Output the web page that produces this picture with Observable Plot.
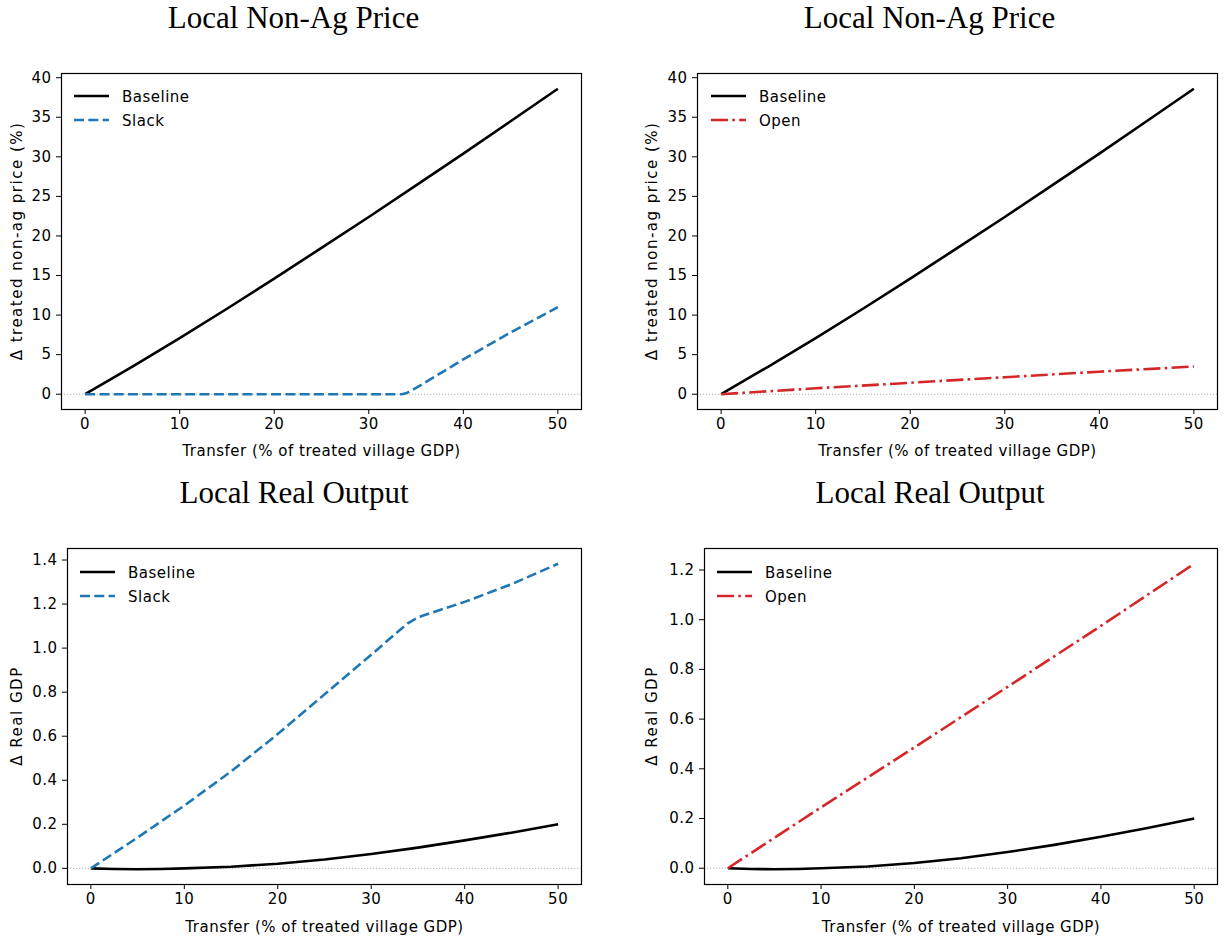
<!DOCTYPE html>
<html><head><meta charset="utf-8">
<script src="https://cdn.jsdelivr.net/npm/d3@7"></script>
<script src="https://cdn.jsdelivr.net/npm/@observablehq/plot@0.6"></script>
<style>
html,body{margin:0;padding:0;background:#fff;}
#page{position:relative;width:1225px;height:939px;overflow:hidden;background:#fff;}
.panel{position:absolute;}
.panel svg{overflow:visible;}
#overlay{position:absolute;left:0;top:0;pointer-events:none;}
</style></head><body><div id="page"></div>
<script>
// ---------- data ----------
const xTicks = [0, 10, 20, 30, 40, 50];
const priceTicks = [0, 5, 10, 15, 20, 25, 30, 35, 40];
const gdpTicksLeft = [0, 0.2, 0.4, 0.6, 0.8, 1.0, 1.2, 1.4];
const gdpTicksRight = [0, 0.2, 0.4, 0.6, 0.8, 1.0, 1.2];

const priceBaselineX = [0, 5, 10, 15, 20, 25, 30, 35, 40, 45, 50];
const priceBaselineY = [0, 3.5, 7.1, 10.8, 14.6, 18.5, 22.4, 26.4, 30.4, 34.5, 38.6];

const priceSlackX = [0, 33.5, 34, 35, 40, 45, 50];
const priceSlackY = [0, 0, 0.15, 0.8, 4.4, 7.8, 11.0];

const priceOpenX = [0, 10, 20, 30, 40, 50];
const priceOpenY = [0, 0.75, 1.45, 2.15, 2.85, 3.5];

const gdpBaselineX = [0, 2.5, 5, 7.5, 10, 15, 20, 25, 30, 35, 40, 45, 50];
const gdpBaselineY = [0, -0.003, -0.004, -0.003, 0, 0.007, 0.021, 0.04, 0.065, 0.094, 0.127, 0.162, 0.2];

const gdpSlackX = [0, 5, 10, 15, 20, 25, 30, 33, 34, 35, 40, 45, 50];
const gdpSlackY = [0, 0.14, 0.285, 0.44, 0.61, 0.79, 0.97, 1.08, 1.115, 1.14, 1.21, 1.29, 1.383];

const gdpOpenX = [0, 10, 20, 30, 40, 50];
const gdpOpenY = [0, 0.245, 0.486, 0.73, 0.975, 1.225];

const titles = ["Local Non-Ag Price", "Local Non-Ag Price", "Local Real Output", "Local Real Output"];
const xLabel = "Transfer (% of treated village GDP)";
const yLabels = ["Δ treated non-ag price (%)", "Δ treated non-ag price (%)", "Δ Real GDP", "Δ Real GDP"];

// ---------- styles ----------
const LW = 2.6;
const FS = 15;
const LS = "0.5px";
const STY = {
  Baseline: {stroke: "#000000", dash: null},
  Slack: {stroke: "#1f77b4", dash: "10,4.3"},
  Open: {stroke: "#d62728", dash: "17,4.3,2.6,4.3"}
};

function pad(ext) { const r = ext[1] - ext[0]; return [ext[0] - 0.05 * r, ext[1] + 0.05 * r]; }

const page = document.getElementById("page");

const panels = [
  {left: 0, top: 60, width: 612, height: 410, mL: 61, mR: 31, mT: 13, mB: 61,
   series: [["Baseline", priceBaselineX, priceBaselineY], ["Slack", priceSlackX, priceSlackY]],
   yTicks: priceTicks, fmt: d3.format("d"), yLabX: 17, xOff: 46},
  {left: 612, top: 60, width: 613, height: 410, mL: 85, mR: 8, mT: 13, mB: 61,
   series: [["Baseline", priceBaselineX, priceBaselineY], ["Open", priceOpenX, priceOpenY]],
   yTicks: priceTicks, fmt: d3.format("d"), yLabX: 652, xOff: 46},
  {left: 0, top: 535, width: 612, height: 404, mL: 67, mR: 31, mT: 13, mB: 55,
   series: [["Baseline", gdpBaselineX, gdpBaselineY], ["Slack", gdpSlackX, gdpSlackY]],
   yTicks: gdpTicksLeft, fmt: d3.format(".1f"), yLabX: 17, xOff: 47},
  {left: 612, top: 535, width: 613, height: 404, mL: 92, mR: 8, mT: 13, mB: 55,
   series: [["Baseline", gdpBaselineX, gdpBaselineY], ["Open", gdpOpenX, gdpOpenY]],
   yTicks: gdpTicksRight, fmt: d3.format(".1f"), yLabX: 652, xOff: 47}
];

panels.forEach((p, i) => {
  const rows = p.series.map(([name, xs, ys]) => xs.map((x, j) => ({name, x, y: ys[j]})));
  const allX = rows.flat().map(d => d.x), allY = rows.flat().map(d => d.y);
  const xDom = pad(d3.extent(allX)), yDom = pad(d3.extent(allY));
  const lines = rows.map(r => Plot.line(r, {x: "x", y: "y", stroke: STY[r[0].name].stroke,
      strokeWidth: LW, strokeDasharray: STY[r[0].name].dash, strokeLinejoin: "round", strokeLinecap: "butt"}));
  const chart = Plot.plot({
    width: p.width, height: p.height,
    marginLeft: p.mL, marginRight: p.mR, marginTop: p.mT, marginBottom: p.mB,
    style: {fontFamily: "DejaVu Sans", fontSize: FS + "px", letterSpacing: LS, color: "#000", background: "transparent"},
    x: {domain: xDom},
    y: {domain: yDom},
    marks: [
      Plot.ruleY([0], {stroke: "#aaaaaa", strokeWidth: 0.9, strokeDasharray: "1.2,1.8"}),
      ...lines,
      Plot.frame({stroke: "#000", strokeWidth: 1.2}),
      Plot.axisX({ticks: xTicks, tickSize: 5, tickPadding: 4, tickFormat: d3.format("d"), fontSize: FS,
        label: xLabel, labelAnchor: "center", labelArrow: "none", labelOffset: p.xOff}),
      Plot.axisY({ticks: p.yTicks, tickSize: 5, tickPadding: 5, tickFormat: p.fmt, fontSize: FS, label: null})
    ]
  });
  const div = document.createElement("div");
  div.className = "panel";
  div.style.left = p.left + "px";
  div.style.top = p.top + "px";
  div.appendChild(chart);
  page.appendChild(div);
});

// ---------- overlay: titles, y labels and legends ----------
const ov = d3.select(page).append("svg").attr("id", "overlay").attr("width", 1225).attr("height", 939);
const titlePos = [[293.5, 28], [929.5, 28], [294, 503], [930, 503]];
titles.forEach((t, i) => {
  ov.append("text").attr("x", titlePos[i][0]).attr("y", titlePos[i][1])
    .attr("text-anchor", "middle").attr("font-family", "Liberation Serif, serif")
    .attr("font-size", 31).attr("fill", "#000").text(t);
});
panels.forEach((p, i) => {
  const cy = p.top + p.mT + (p.height - p.mT - p.mB) / 2;
  ov.append("text").attr("transform", `translate(${p.yLabX},${cy}) rotate(-90)`)
    .attr("text-anchor", "middle").attr("dy", "0.35em")
    .attr("font-family", "DejaVu Sans").attr("font-size", FS).attr("letter-spacing", "1.5px")
    .attr("fill", "#000").text(yLabels[i]);
});
const legendPos = [[74, 96], [711, 96], [80, 572], [717, 572]];
panels.forEach((p, i) => {
  p.series.forEach(([name], k) => {
    const [lx, ly] = legendPos[i];
    const y = ly + k * 24;
    ov.append("line").attr("x1", lx).attr("x2", lx + 35).attr("y1", y).attr("y2", y)
      .attr("stroke", STY[name].stroke).attr("stroke-width", LW)
      .attr("stroke-dasharray", STY[name].dash);
    ov.append("text").attr("x", lx + 48).attr("y", y + 5.5).attr("font-family", "DejaVu Sans")
      .attr("font-size", FS).attr("letter-spacing", LS).attr("fill", "#000").text(name);
  });
});
</script></body></html>
